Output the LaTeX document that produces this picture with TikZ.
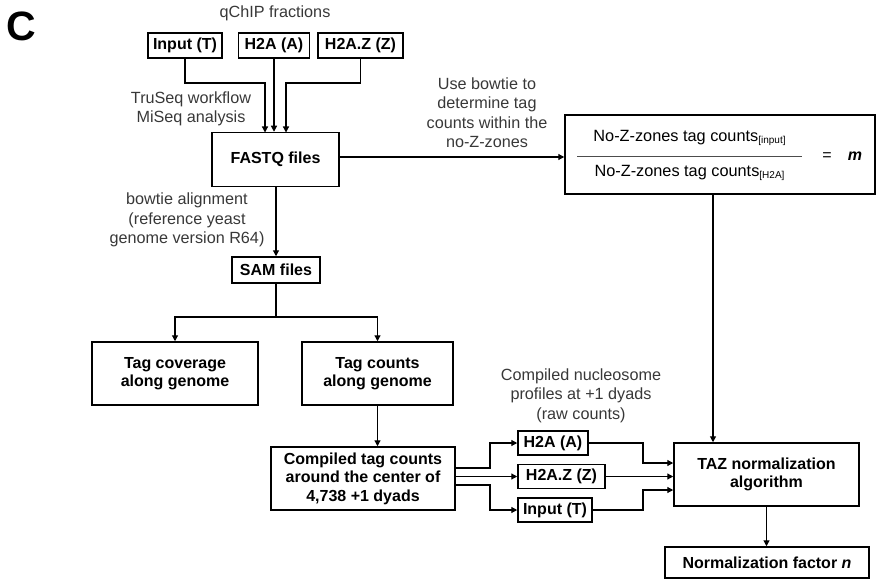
\documentclass[tikz,border=0pt]{standalone}
\usepackage{fontspec}
\setmainfont{Liberation Sans}
\usetikzlibrary{arrows.meta}
\definecolor{anno}{gray}{0.22}
\tikzset{
  box/.style={draw=black, line width=1.5pt, inner sep=0pt, align=center,
    font=\fontsize{16}{18.5}\selectfont\bfseries, fill=white},
  anno/.style={inner sep=0pt, align=center, text=anno,
    font=\fontsize{16.2}{19.5}\selectfont},
  conn/.style={line width=1.2pt, draw=black},
  arr/.style={conn, -{Triangle[length=6pt,width=6pt]}},
}
\newcommand{\subsc}[1]{\raisebox{-2.5pt}{\fontsize{10}{12}\selectfont #1}}
\begin{document}
\begin{tikzpicture}[x=1pt,y=-1pt]
\useasboundingbox (0,0) rectangle (880,580);

% title letter
\node[inner sep=0pt, font=\fontsize{41}{44}\selectfont\bfseries] (C) at (21.5,26.5) {C};

% qChIP fractions
\node[anno] (qchip) at (275,13) {qChIP fractions};
\node[box, minimum width=74pt, minimum height=25pt] (inT) at (185,45.5) {Input (T)};
\node[box, minimum width=71pt, minimum height=25pt] (inA) at (274,45.5) {H2A (A)};
\node[box, minimum width=85pt, minimum height=25pt] (inZ) at (360.5,45.5) {H2A.Z (Z)};

\node[box, minimum width=127pt, minimum height=54pt] (fastq) at (275.5,159.5) {FASTQ files};
\node[anno] (truseq) at (191,109) {TruSeq workflow\\MiSeq analysis};

\coordinate (fT) at (265,132.5);
\coordinate (fZ) at (286,132.5);
\draw[arr] (inT.south) |- (265,83) -- (fT);
\draw[arr] (inA.south) -- (inA.south |- fastq.north);
\draw[arr] (inZ.south) |- (286,83) -- (fZ);

% fraction box
\node[box, minimum width=310pt, minimum height=79pt] (frac) at (720,154.5) {};
\node[inner sep=0pt, font=\fontsize{16.3}{19}\selectfont] (num) at (689.5,138) {No-Z-zones tag counts\subsc{[input]}};
\node[inner sep=0pt, font=\fontsize{16.3}{19}\selectfont] (den) at (689.5,173) {No-Z-zones tag counts\subsc{[H2A]}};
\draw[line width=0.9pt, draw=black!70] (577,156) -- (802,156);
\node[inner sep=0pt, font=\fontsize{16}{19}\selectfont] (eq) at (827,157) {=};
\node[inner sep=0pt, font=\fontsize{16}{19}\selectfont\bfseries\itshape] (m) at (855,156) {m};

\node[anno] (usebt) at (487,112.5) {Use bowtie to\\determine tag\\counts within the\\no-Z-zones};
\draw[arr] (fastq.east |- 0,157) -- (frac.west |- 0,157);

% SAM
\node[box, minimum width=88pt, minimum height=26pt] (sam) at (276,270) {SAM files};
\node[anno] (bowtie) at (187,220) {bowtie alignment\\(reference yeast\\genome version R64)};
\draw[arr] (fastq.south -| sam.north) -- (sam.north);

\node[box, minimum width=166pt, minimum height=63pt] (cov) at (175,373.5) {Tag coverage\\along genome};
\node[box, minimum width=151pt, minimum height=63pt] (cnt) at (377.5,373.5) {Tag counts\\along genome};
\coordinate (split) at (276,317);
\draw[conn] (sam.south) -- (split);
\draw[arr] (split) -| (cov.north);
\draw[arr] (split) -| (cnt.north);

% compiled
\node[box, minimum width=184pt, minimum height=63pt] (comp) at (363,478.5) {Compiled tag counts\\around the center of\\4,738 +1 dyads};
\draw[arr] (cnt.south) -- (cnt.south |- comp.north);

\node[anno] (prof) at (581,395.5) {Compiled nucleosome\\profiles at +1 dyads\\(raw counts)};
\node[box, minimum width=70pt, minimum height=24pt] (pA) at (553,443) {H2A (A)};
\node[box, minimum width=87pt, minimum height=24pt] (pZ) at (561.5,476.5) {H2A.Z (Z)};
\node[box, minimum width=74pt, minimum height=24pt] (pT) at (555,510) {Input (T)};

\draw[arr] (comp.east |- 0,468) -- (490,468) |- (pA.west);
\draw[arr] (comp.east |- 0,476.5) -- (pZ.west);
\draw[arr] (comp.east |- 0,485) -- (490,485) |- (pT.west);

% TAZ
\node[box, minimum width=185pt, minimum height=63pt] (taz) at (766.5,474.5) {TAZ normalization\\algorithm};
\draw[arr] (pA.east) -- (643,443) |- (taz.west |- 0,463);
\draw[arr] (pZ.east) -- (taz.west |- pZ.east);
\draw[arr] (pT.east) -- (643,510) |- (taz.west |- 0,490);

\coordinate (fdown) at ([xshift=-7pt]frac.south);
\draw[arr] (fdown) -- (fdown |- taz.north);

\node[box, minimum width=204pt, minimum height=31pt] (norm) at (767,562.5) {Normalization factor \textit{n}};
\draw[arr] (taz.south) -- (taz.south |- norm.north);
\end{tikzpicture}
\end{document}
